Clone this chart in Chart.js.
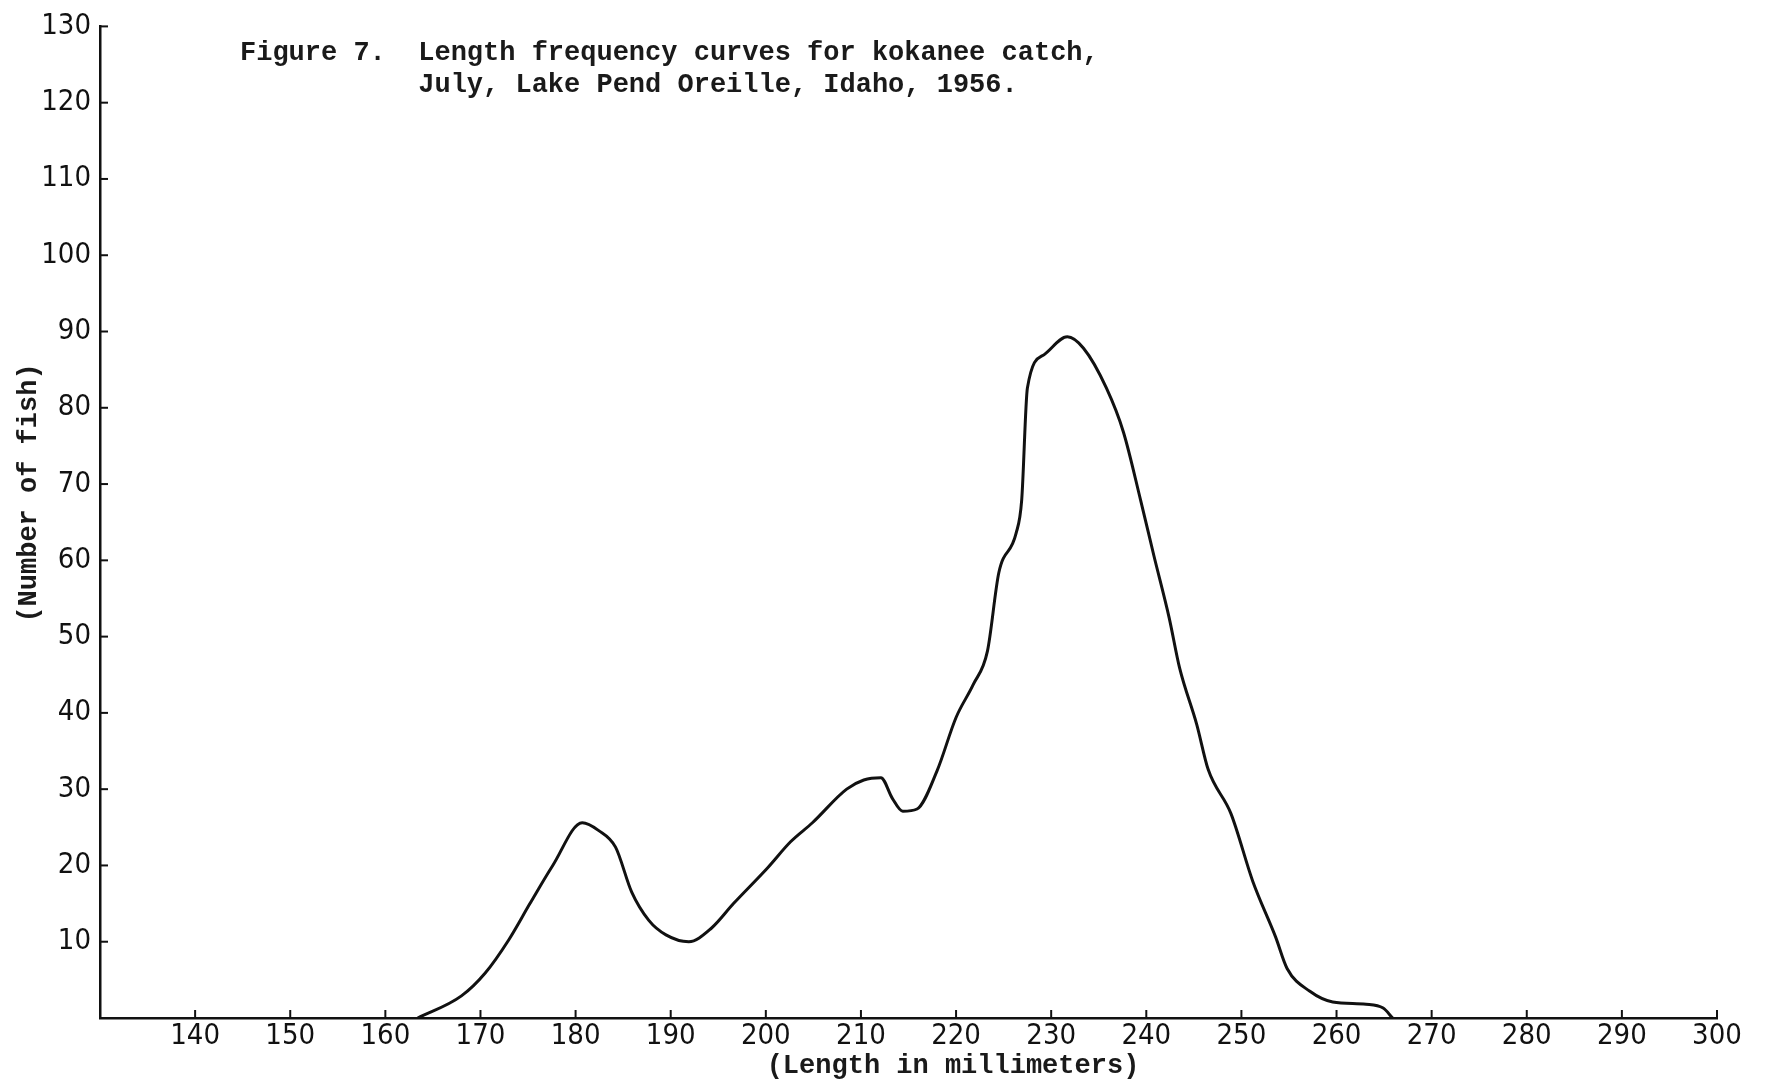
<!DOCTYPE html>
<html>
<head>
<meta charset="utf-8">
<script src="https://cdn.jsdelivr.net/npm/chart.js@4.4.1/dist/chart.umd.min.js"></script>
<style>
  html, body { margin: 0; padding: 0; background: #fff; }
  #wrap { width: 1769px; height: 1088px; }
</style>
</head>
<body>
<div id="wrap"><canvas id="myChart" width="1769" height="1088"></canvas></div>
<script>
// length (mm)
const lengths = [163.4, 168, 170.5, 173, 175.2, 177.6, 180.7, 182.4, 184.2, 185.9, 187.7, 189.5, 191.9, 194.3, 196.6, 200.2, 202.6, 204.9, 208.5, 210.3, 212.1, 213.3, 214.4, 215.9, 218, 220, 221.8, 223.3, 224.5, 226.3, 226.9, 227.5, 229.3, 231.7, 233.4, 235.8, 237.6, 239.4, 240.8, 242.4, 243.5, 245.3, 246.5, 248.9, 251.2, 253.6, 254.8, 257.2, 259.6, 263.1, 264.9, 265.9];
// number of fish at each length
const counts = [0, 2.9, 5.9, 10.3, 15, 20, 25.6, 24.6, 22.4, 16.5, 12.8, 10.9, 10, 11.8, 15, 19.7, 23.1, 25.6, 30, 31.2, 31.5, 28.8, 27.1, 27.4, 32.4, 39.4, 43.7, 48.1, 58.4, 63.5, 67.9, 82.6, 87, 89.3, 87.8, 82.6, 76.8, 67.9, 60.6, 52.5, 45.9, 38.5, 32.6, 26.8, 17.9, 10.6, 6.5, 3.5, 2.1, 1.8, 1.3, 0];
// axis ticks
const xTicks = [140, 150, 160, 170, 180, 190, 200, 210, 220, 230, 240, 250, 260, 270, 280, 290, 300];
const yTicks = [10, 20, 30, 40, 50, 60, 70, 80, 90, 100, 110, 120, 130];

const titleLines = ["Figure 7.  Length frequency curves for kokanee catch,",
                    "           July, Lake Pend Oreille, Idaho, 1956."];
const xTitle = "(Length in millimeters)";
const yTitle = "(Number of fish)";

const tickFont = { family: "'Liberation Sans Narrow', 'DejaVu Sans Condensed', 'Liberation Sans', sans-serif", size: 29 };
const typeFont = "'Liberation Mono', 'DejaVu Sans Mono', monospace";

// inward tick marks, caption and axis titles
const extras = {
  id: "extras",
  afterDraw(chart) {
    const ctx = chart.ctx;
    const x = chart.scales.x, y = chart.scales.y;
    ctx.save();
    ctx.strokeStyle = "#111";
    ctx.lineWidth = 2;
    xTicks.forEach(v => {
      const px = x.getPixelForValue(v);
      ctx.beginPath();
      ctx.moveTo(px, y.bottom);
      ctx.lineTo(px, y.bottom - 8);
      ctx.stroke();
    });
    yTicks.forEach(v => {
      const py = y.getPixelForValue(v);
      ctx.beginPath();
      ctx.moveTo(x.left, py);
      ctx.lineTo(x.left + 8, py);
      ctx.stroke();
    });
    ctx.fillStyle = "#1a1a1a";
    ctx.font = "bold 27px " + typeFont;
    ctx.textBaseline = "middle";
    ctx.textAlign = "left";
    ctx.fillText(titleLines[0], 240, 53);
    ctx.fillText(titleLines[1], 240, 85);

    ctx.font = "bold 27px " + typeFont;
    ctx.textAlign = "center";
    ctx.fillText(xTitle, 953, 1066);
    ctx.translate(29, 493);
    ctx.rotate(-Math.PI / 2);
    ctx.fillText(yTitle, 0, 0);
    ctx.restore();
  }
};

let ctx = document.getElementById("myChart").getContext("2d");
let myChart = new Chart(ctx, {
  type: "line",
  data: {
    datasets: [
      {
        label: "Kokanee catch",
        data: lengths.map((l, i) => ({ x: l, y: counts[i] })),
        borderColor: "#111",
        borderWidth: 3,
        pointRadius: 0,
        fill: false,
        cubicInterpolationMode: "monotone",
      },
    ],
  },
  options: {
    responsive: false,
    animation: false,
    layout: { padding: { top: 20, right: 52, left: 0, bottom: 0 } },
    plugins: {
      legend: { display: false },
      tooltip: { enabled: false },
    },
    scales: {
      x: {
        type: "linear",
        min: 130,
        max: 300,
        afterBuildTicks: (s) => { s.ticks = xTicks.map(v => ({ value: v })); },
        afterFit: (s) => { s.height = 70; },
        grid: { display: true, drawOnChartArea: false, drawTicks: false },
        border: { display: true, color: "#111", width: 2.5 },
        ticks: { color: "#111", font: tickFont, padding: 1, maxRotation: 0, autoSkip: false },
      },
      y: {
        min: 0,
        max: 130,
        afterBuildTicks: (s) => { s.ticks = yTicks.map(v => ({ value: v })); },
        afterFit: (s) => { s.width = 100; },
        grid: { display: true, drawOnChartArea: false, drawTicks: false },
        border: { display: true, color: "#111", width: 2.5 },
        ticks: { color: "#111", font: tickFont, padding: 9, autoSkip: false },
      },
    },
  },
  plugins: [extras],
});
</script>
</body>
</html>
